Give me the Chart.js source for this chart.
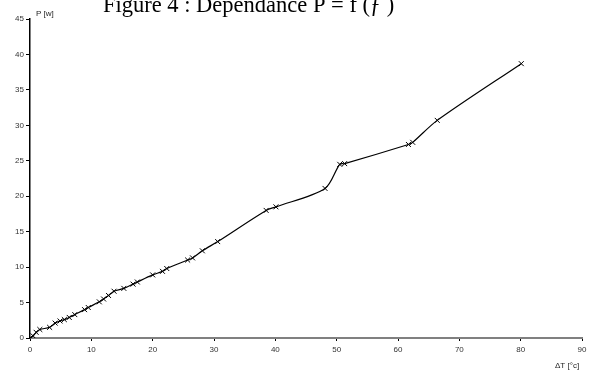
<!DOCTYPE html>
<html>
<head>
<meta charset="utf-8">
<script src="https://cdn.jsdelivr.net/npm/chart.js@4/dist/chart.umd.min.js"></script>
<style>
  html, body { margin: 0; padding: 0; background: #fff; }
  #wrap { width: 592px; height: 370px; position: relative; }
</style>
</head>
<body>
<div id="wrap"><canvas id="chart"></canvas></div>
<script>
// delta T [°c]
const deltaT = [0, 0.5, 1.0, 1.6, 3.2, 4.1, 4.9, 5.6, 6.4, 7.3, 8.9, 9.5, 11.3, 12.0, 12.8, 13.7,
  15.3, 16.8, 17.5, 20.0, 21.6, 22.3, 25.7, 26.5, 28.1, 30.6, 38.5, 40.1, 48.1, 50.5, 51.3,
  61.7, 62.4, 66.4, 80.1];
// P [w]
const power = [0, 0.3, 0.8, 1.2, 1.5, 2.1, 2.4, 2.6, 2.9, 3.3, 4.0, 4.3, 5.1, 5.5, 6.0, 6.6,
  7.0, 7.6, 7.9, 8.9, 9.4, 9.8, 11.0, 11.3, 12.3, 13.6, 18.0, 18.5, 21.1, 24.5, 24.6,
  27.3, 27.6, 30.7, 38.7];

const xTicks = [0, 10, 20, 30, 40, 50, 60, 70, 80, 90];
const yTicks = [0, 5, 10, 15, 20, 25, 30, 35, 40, 45];

const titleText = "Figure 4 : Dependance P = f (ƒ )";
const yLabel = "P [w]";
const xLabel = "\u0394T [°c]";

const points = deltaT.map((x, i) => ({ x: x, y: power[i] }));

// texts that sit outside the usual chart.js title spots
const extraText = {
  id: "extraText",
  afterDraw(chart) {
    const ctx = chart.ctx;
    ctx.save();
    ctx.fillStyle = "#000";
    ctx.textBaseline = "alphabetic";
    ctx.textAlign = "left";
    ctx.font = "22.5px 'Liberation Serif', 'Times New Roman', serif";
    ctx.fillText(titleText, 103, 12);
    ctx.font = "8px 'Liberation Sans', Arial, sans-serif";
    ctx.fillStyle = "#222";
    ctx.fillText(yLabel, 36, 16);
    ctx.fillText(xLabel, 555, 368);
    ctx.restore();
  }
};

const tickFont = { family: "'Liberation Sans', Arial, sans-serif", size: 8 };

new Chart(document.getElementById("chart"), {
  type: "scatter",
  data: {
    datasets: [{
      data: points,
      showLine: true,
      borderColor: "#000",
      borderWidth: 1.2,
      tension: 0.3,
      pointStyle: "crossRot",
      pointRadius: 3.5,
      pointBorderColor: "#000",
      pointBorderWidth: 1,
      pointHoverRadius: 3.5
    }]
  },
  options: {
    responsive: true,
    maintainAspectRatio: false,
    animation: false,
    layout: { padding: { top: 19, right: 10, bottom: 0, left: 0 } },
    plugins: { legend: { display: false }, tooltip: { enabled: false } },
    scales: {
      x: {
        type: "linear",
        min: 0,
        max: 90,
        afterBuildTicks: (s) => { s.ticks = xTicks.map(v => ({ value: v })); },
        afterFit: (s) => { s.height = 32; },
        border: { color: "#808080", width: 2 },
        grid: { drawOnChartArea: false, drawTicks: true, tickLength: 3, color: "#000" },
        ticks: { color: "#333", font: tickFont, padding: 4, maxRotation: 0 }
      },
      y: {
        type: "linear",
        min: 0,
        max: 45,
        afterBuildTicks: (s) => { s.ticks = yTicks.map(v => ({ value: v })); },
        afterFit: (s) => { s.width = 30; },
        border: { color: "#000", width: 1.5 },
        grid: { drawOnChartArea: false, drawTicks: true, tickLength: 4, color: "#000" },
        ticks: { color: "#333", font: tickFont, padding: 2 }
      }
    }
  },
  plugins: [extraText]
});
</script>
</body>
</html>
